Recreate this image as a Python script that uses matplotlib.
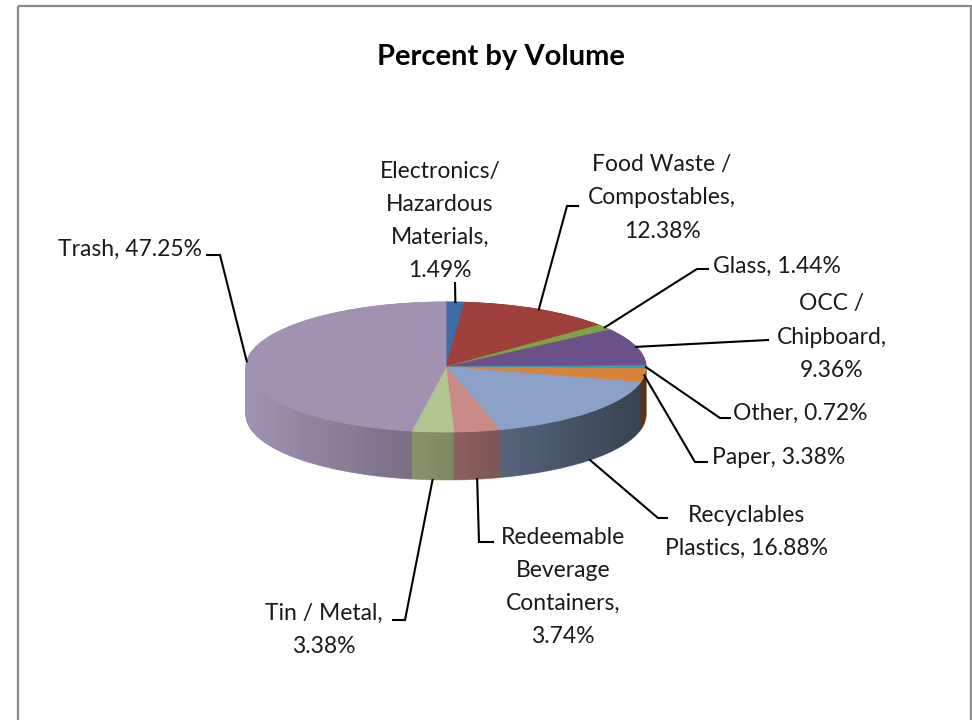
import numpy as np
import matplotlib
matplotlib.use("Agg")
import matplotlib.pyplot as plt
from matplotlib.patches import Polygon, Rectangle

plt.rcParams['font.family'] = ['Lato', 'DejaVu Sans']

# data
categories = ['Electronics/\nHazardous\nMaterials', 'Food Waste /\nCompostables', 'Glass',
              'OCC /\nChipboard', 'Other', 'Paper', 'Recyclables\nPlastics',
              'Redeemable\nBeverage\nContainers', 'Tin / Metal', 'Trash']
values = [1.49, 12.38, 1.44, 9.36, 0.72, 3.38, 16.88, 3.74, 3.38, 47.25]
pct_labels = ['1.49%', '12.38%', '1.44%', '9.36%', '0.72%', '3.38%', '16.88%', '3.74%', '3.38%', '47.25%']
colors = ['#3D6CA8', '#A0403D', '#7FA346', '#6B5189', '#2E9FBA', '#D9823A',
          '#8BA1C7', '#CA8A88', '#B3C58F', '#A192B1']

# label layout (pixels): text x, text y, alignment, separator, elbow x, elbow y, end x
label_layout = [
    (440, 221, 'center', ',\n', 455, 283, 455),
    (662, 198, 'center', ',\n', 567, 206, 578),
    (713, 266, 'left', ', ', 697, 269, 708),
    (832, 337, 'center', ',\n', 768, 340, 768),
    (733, 413, 'left', ', ', 720, 418, 730),
    (712, 458, 'left', ', ', 695, 462, 707),
    (746, 532, 'center', ', ', 658, 518, 667),
    (563, 587, 'center', ',\n', 479, 542, 493),
    (324, 630, 'center', ',\n', 405, 620, 393),
    (202, 249, 'right', ', ', 220, 255, 207),
]

W, H = 972, 720
cx, cy, rx, ry, thick = 446, 367, 200, 65, 48
pad = 10

fig = plt.figure(figsize=(W / 100, H / 100), dpi=100)

# pie axes, squashed so the circle becomes an ellipse
x0, x1 = cx - rx - pad, cx + rx + pad
yt, yb = cy - ry - pad, cy + ry + thick + pad
pax = fig.add_axes([x0 / W, 1 - yb / H, (x1 - x0) / W, (yb - yt) / H])
d = thick / ry

# side wall: stack of pies shifted downwards
n_layers = 60
for k in range(n_layers):
    off = -d * (1 - k / (n_layers - 1))
    wedges, _ = pax.pie(values, colors=colors, startangle=90, counterclock=False,
                        center=(0, off), wedgeprops={'linewidth': 0})
    for w in wedges:
        w.set_edgecolor(w.get_facecolor())
        w.set_linewidth(0.6)

# shading of the side wall: darker towards the right
th = np.linspace(np.pi, 2 * np.pi, 200)
band = np.concatenate([np.column_stack([np.cos(th), np.sin(th)]),
                       np.column_stack([np.cos(th[::-1]), np.sin(th[::-1]) - d])])
band_patch = Polygon(band, closed=True, transform=pax.transData, facecolor='none', edgecolor='none')
pax.add_patch(band_patch)
shade = np.zeros((1, 256, 4))
shade[0, :, 3] = np.linspace(0.0, 0.6, 256)
im = pax.imshow(shade, extent=[-1, 1, -1 - d, 0], aspect='auto', zorder=2, interpolation='bilinear')
im.set_clip_path(band_patch)

wedges, _ = pax.pie(values, colors=colors, startangle=90, counterclock=False,
                    wedgeprops={'linewidth': 0})
for w in wedges:
    w.set_edgecolor(w.get_facecolor())
    w.set_linewidth(0.6)
    w.set_zorder(3)

pax.set_aspect('auto')
pax.set_xlim(-(rx + pad) / rx, (rx + pad) / rx)
pax.set_ylim(-(ry + thick + pad) / ry, (ry + pad) / ry)
pax.axis('off')

# overlay axes in pixel coordinates for labels, leader lines and frame
ax = fig.add_axes([0, 0, 1, 1])
ax.set_xlim(0, W)
ax.set_ylim(H, 0)
ax.axis('off')
ax.patch.set_visible(False)

ax.add_patch(Rectangle((18, 6), 953, 740, fill=False, edgecolor='#8a8a8a', linewidth=1.6))

ax.text(501, 57, 'Percent by Volume', ha='center', va='center', fontsize=21,
        fontweight='bold', color='black')

cum = np.cumsum([0] + values[:-1])
total = sum(values)
for i, (name, pct) in enumerate(zip(categories, pct_labels)):
    tx, ty, ha, sep, ex, ey, endx = label_layout[i]
    mid = np.deg2rad(90 - (cum[i] + values[i] / 2) / total * 360)
    axp = cx + rx * np.cos(mid)
    ayp = cy - ry * np.sin(mid)
    if np.sin(mid) < -0.3:
        ayp += thick
    ax.plot([axp, ex, endx], [ayp, ey, ey], color='black', linewidth=1.5,
            solid_joinstyle='miter')
    ax.text(tx, ty, name + sep + pct, ha=ha, va='center', multialignment='center',
            fontsize=16.5, linespacing=1.72, color='#1a1a1a')

fig.savefig('out.png', dpi=100)
